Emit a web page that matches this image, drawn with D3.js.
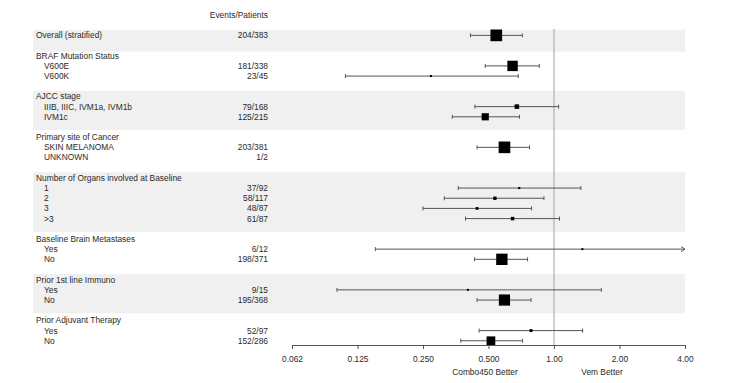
<!DOCTYPE html>
<html><head><meta charset="utf-8">
<script src="https://cdn.jsdelivr.net/npm/d3@7"></script>
<style>
body{margin:0;background:#fff;}
text{font-family:"Liberation Sans",Arial,sans-serif;font-size:8.4px;fill:#2a2a2a;}
</style></head>
<body><svg id="c" width="755" height="383"></svg>
<script>
const labels = ["Overall (stratified)","BRAF Mutation Status","V600E","V600K","AJCC stage","IIIB, IIIC, IVM1a, IVM1b","IVM1c","Primary site of Cancer","SKIN MELANOMA","UNKNOWN","Number of Organs involved at Baseline","1","2","3",">3","Baseline Brain Metastases","Yes","No","Prior 1st line Immuno","Yes","No","Prior Adjuvant Therapy","Yes","No"];
const levels = [0,0,1,1,0,1,1,0,1,1,0,1,1,1,1,0,1,1,0,1,1,0,1,1];
const events   = [204,null,181,23,null,79,125,null,203,1,null,37,58,48,61,null,6,198,null,9,195,null,52,152];
const patients = [383,null,338,45,null,168,215,null,381,2,null,92,117,87,87,null,12,371,null,15,368,null,97,286];
const hr    = [0.543,null,0.645,0.272,null,0.675,0.483,null,0.592,null,null,0.692,0.535,0.443,0.645,null,1.35,0.576,null,0.402,0.592,null,0.784,0.513];
const lower = [0.413,null,0.483,0.110,null,0.433,0.341,null,0.443,null,null,0.363,0.313,0.250,0.392,null,0.151,0.431,null,0.1006,0.443,null,0.453,0.373];
const upper = [0.715,null,0.856,0.685,null,1.05,0.694,null,0.772,null,null,1.33,0.899,0.789,1.06,null,6.0,0.756,null,1.65,0.784,null,1.354,0.717];
const tickValues = [0.0625,0.125,0.25,0.5,1,2,4];
const tickLabels = ["0.062","0.125","0.250","0.500","1.00","2.00","4.00"];
const headerLabel = "Events/Patients";
const leftNote = "Combo450 Better", rightNote = "Vem Better";

const svg = d3.select("#c");
const x = d3.scaleLog().base(2).domain([0.0625,4]).range([292,685]);
const y = d3.scaleLinear().domain([0,1]).range([15,25.18]);

let line = 0; const rows = []; let group = -1;
labels.forEach((l,i)=>{
  if(levels[i]===0){ line += 2; group++; } else { line += 1; }
  rows.push({label:l, level:levels[i], ev:events[i], pt:patients[i], hr:hr[i], lo:lower[i], hi:upper[i], line, group});
});

const groups = d3.groups(rows, d=>d.group);
groups.forEach(([g, rs])=>{
  if(g%2===0){
    const first = d3.min(rs,d=>d.line), last = d3.max(rs,d=>d.line);
    const top = y(first-0.55), bot = y(last + (rs.length===1?1.6:1.3));
    svg.append("rect").attr("x",33).attr("y",top).attr("width",685-33).attr("height",bot-top).attr("fill","#f0f0f0");
  }
});

svg.append("text").attr("x",268).attr("y",y(0)).attr("dy","0.35em").attr("text-anchor","end").text(headerLabel);

svg.append("line").attr("x1",x(1)).attr("x2",x(1)).attr("y1",29).attr("y2",345).attr("stroke","#b0b0b0").attr("stroke-width",1.2);

svg.selectAll("text.lab").data(rows).join("text").attr("class","lab")
  .attr("x",d=>d.level===0?36:44).attr("y",d=>y(d.line)).attr("dy","0.35em").text(d=>d.label);
svg.selectAll("text.ev").data(rows.filter(d=>d.ev!=null)).join("text").attr("class","ev")
  .attr("x",268).attr("y",d=>y(d.line)).attr("dy","0.35em").attr("text-anchor","end").text(d=>d.ev+"/"+d.pt);

const ci = rows.filter(d=>d.hr!=null);
const xmax = x.range()[1];
const g = svg.append("g");
ci.forEach(d=>{
  const yy = y(d.line);
  const x1 = x(d.lo), x2 = Math.min(x(d.hi), xmax);
  g.append("line").attr("x1",x1).attr("x2",x2).attr("y1",yy).attr("y2",yy).attr("stroke","#555").attr("stroke-width",1);
  g.append("line").attr("x1",x1).attr("x2",x1).attr("y1",yy-2).attr("y2",yy+2).attr("stroke","#555");
  if(d.hi>4){
    g.append("path").attr("d",`M${xmax-4},${yy-2.5}L${xmax},${yy}L${xmax-4},${yy+2.5}`).attr("fill","none").attr("stroke","#555");
  } else {
    g.append("line").attr("x1",x2).attr("x2",x2).attr("y1",yy-2).attr("y2",yy+2).attr("stroke","#555");
  }
  const s = Math.max(2, d.ev/204*11.7);
  g.append("rect").attr("x",x(d.hr)-s/2).attr("y",yy-s/2).attr("width",s).attr("height",s).attr("fill","#000");
});

const ax = svg.append("g").attr("transform","translate(0,345)")
  .call(d3.axisBottom(x).tickValues(tickValues).tickFormat((d,i)=>tickLabels[i]).tickSize(4).tickPadding(7));
ax.select(".domain").attr("stroke","#555");
ax.selectAll(".tick line").attr("stroke","#555");
ax.selectAll(".tick text").style("font-family","'Liberation Sans',Arial,sans-serif").style("font-size","8.4px").attr("fill","#2a2a2a");

svg.append("text").attr("x",485).attr("y",372).attr("dy","0.35em").attr("text-anchor","middle").text(leftNote);
svg.append("text").attr("x",602).attr("y",372).attr("dy","0.35em").attr("text-anchor","middle").text(rightNote);
</script></body></html>
